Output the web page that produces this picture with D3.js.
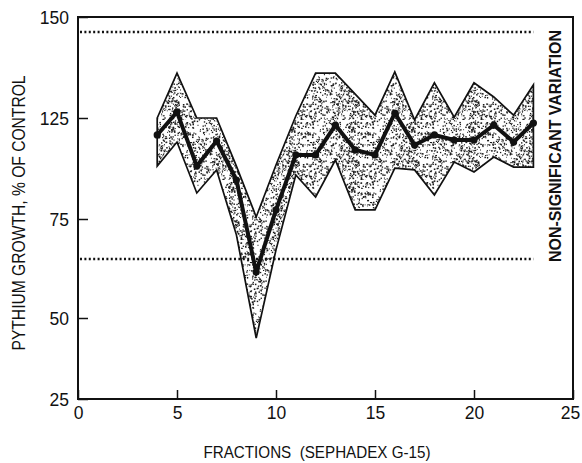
<!DOCTYPE html>
<html>
<head>
<meta charset="utf-8">
<script src="https://cdn.jsdelivr.net/npm/d3@7"></script>
<style>
  body { margin: 0; background: #fff; }
  svg text { font-family: "Liberation Sans", Arial, Helvetica, sans-serif; fill: #111; }
</style>
</head>
<body>
<div id="chart"></div>
<script>
// data (values in % of control)
const fractions = [4, 5, 6, 7, 8, 9, 10, 11, 12, 13, 14, 15, 16, 17, 18, 19, 20, 21, 22, 23];
const meanGrowth = [116.6, 126.5, 101.2, 113.6, 94.3, 61.6, 79.5, 106.7, 106.7, 121.5,
                    109.2, 106.7, 126.2, 111.6, 116.6, 114.1, 114.1, 121.5, 113.1, 122.5];
const upperGrowth = [125, 136.1, 125, 125, 101.2, 76.0, 101.7, 125.5, 136.1, 136.1,
                     130.9, 125.7, 136.4, 124.0, 133.7, 125.2, 133.7, 130.2, 125.7, 133.2];
const lowerGrowth = [101.2, 113.1, 87.9, 99.3, 71.0, 43.8, 67.2, 96.8, 85.9, 104.2,
                     79.5, 79.5, 100.2, 99.3, 86.9, 103.2, 98.3, 105.7, 100.7, 100.7];
const limits = [146.3, 64.9];   // dotted "non-significant variation" lines
const limitRange = [0.1, 23];
const yTicks = [25, 50, 75, 125, 150];
const xTicks = [0, 5, 10, 15, 20, 25];

const W = 582, H = 463;
const svg = d3.select("#chart").append("svg").attr("width", W).attr("height", H);

// scales (y axis is labelled unevenly, so a piecewise scale)
const x = d3.scaleLinear().domain([0, 25]).range([78, 573]);
const y = d3.scaleLinear().domain([25, 50, 75, 125, 150]).range([399, 318, 219, 118, 17]);

// stipple pattern for the band
const defs = svg.append("defs");
const pat = defs.append("pattern")
  .attr("id", "stipple")
  .attr("patternUnits", "userSpaceOnUse")
  .attr("width", 60).attr("height", 60);
pat.append("rect").attr("width", 60).attr("height", 60).attr("fill", "#fff");
let seed = 7;
const rnd = () => { seed = (seed * 16807) % 2147483647; return seed / 2147483647; };
const dots = d3.range(640).map(() => [rnd() * 60, rnd() * 60, 0.8 + rnd() * 0.8]);
pat.selectAll("rect.d").data(dots).enter().append("rect")
  .attr("class", "d")
  .attr("x", d => d[0]).attr("y", d => d[1])
  .attr("width", d => d[2]).attr("height", d => d[2])
  .attr("fill", "#1a1a1a");

const rows = fractions.map((f, i) => ({ f, m: meanGrowth[i], hi: upperGrowth[i], lo: lowerGrowth[i] }));

// band
const area = d3.area()
  .x(d => x(d.f))
  .y0(d => y(d.lo))
  .y1(d => y(d.hi));
svg.append("path")
  .datum(rows)
  .attr("d", area)
  .attr("fill", "url(#stipple)")
  .attr("stroke", "#111")
  .attr("stroke-width", 1.7)
  .attr("stroke-linejoin", "miter");

// dotted limits
svg.selectAll(".limit")
  .data(limits)
  .enter()
  .append("line")
  .attr("class", "limit")
  .attr("x1", x(limitRange[0])).attr("x2", x(limitRange[1]))
  .attr("y1", d => y(d)).attr("y2", d => y(d))
  .attr("stroke", "#111")
  .attr("stroke-width", 2.4)
  .attr("stroke-dasharray", "2,2.4");

// mean line
const line = d3.line().x(d => x(d.f)).y(d => y(d.m));
svg.append("path")
  .datum(rows)
  .attr("d", line)
  .attr("fill", "none")
  .attr("stroke", "#111")
  .attr("stroke-width", 4)
  .attr("stroke-linejoin", "round");
svg.selectAll(".pt")
  .data(rows)
  .enter()
  .append("circle")
  .attr("class", "pt")
  .attr("cx", d => x(d.f)).attr("cy", d => y(d.m))
  .attr("r", 3.6)
  .attr("fill", "#111");

// axes
const yAxis = svg.append("g")
  .attr("transform", `translate(${x(0)},0)`)
  .call(d3.axisLeft(y).tickValues(yTicks).tickSizeInner(-10).tickSizeOuter(0).tickPadding(9));
const xAxis = svg.append("g")
  .attr("transform", `translate(0,${y(25)})`)
  .call(d3.axisBottom(x).tickValues(xTicks).tickSizeInner(-9).tickSizeOuter(0).tickPadding(8));
[yAxis, xAxis].forEach(a => {
  a.select(".domain").remove();
  a.selectAll(".tick line").attr("stroke", "#111").attr("stroke-width", 1.5);
  a.selectAll(".tick text").attr("font-size", 17.5).attr("fill", "#111");
});
yAxis.selectAll(".tick text").attr("dy", "0.36em");
xAxis.selectAll(".tick text").filter(d => d === 25).attr("dx", -3);

// frame
svg.append("rect")
  .attr("x", x(0)).attr("y", y(150))
  .attr("width", x(25) - x(0)).attr("height", y(25) - y(150))
  .attr("fill", "none")
  .attr("stroke", "#111")
  .attr("stroke-width", 2);

// labels
svg.append("text")
  .attr("transform", `translate(25,213) rotate(-90)`)
  .attr("text-anchor", "middle")
  .attr("font-size", 18)
  .attr("textLength", 275)
  .attr("lengthAdjust", "spacingAndGlyphs")
  .text("PYTHIUM GROWTH, % OF CONTROL");

svg.append("text")
  .attr("x", 317).attr("y", 458)
  .attr("text-anchor", "middle")
  .attr("font-size", 17)
  .attr("textLength", 227)
  .attr("lengthAdjust", "spacingAndGlyphs")
  .attr("xml:space", "preserve")
  .style("white-space", "pre")
  .text("FRACTIONS  (SEPHADEX G-15)");

svg.append("text")
  .attr("transform", `translate(561,146) rotate(-90)`)
  .attr("text-anchor", "middle")
  .attr("font-size", 17)
  .attr("font-weight", "bold")
  .attr("textLength", 232)
  .attr("lengthAdjust", "spacingAndGlyphs")
  .text("NON-SIGNIFICANT VARIATION");
</script>
</body>
</html>
